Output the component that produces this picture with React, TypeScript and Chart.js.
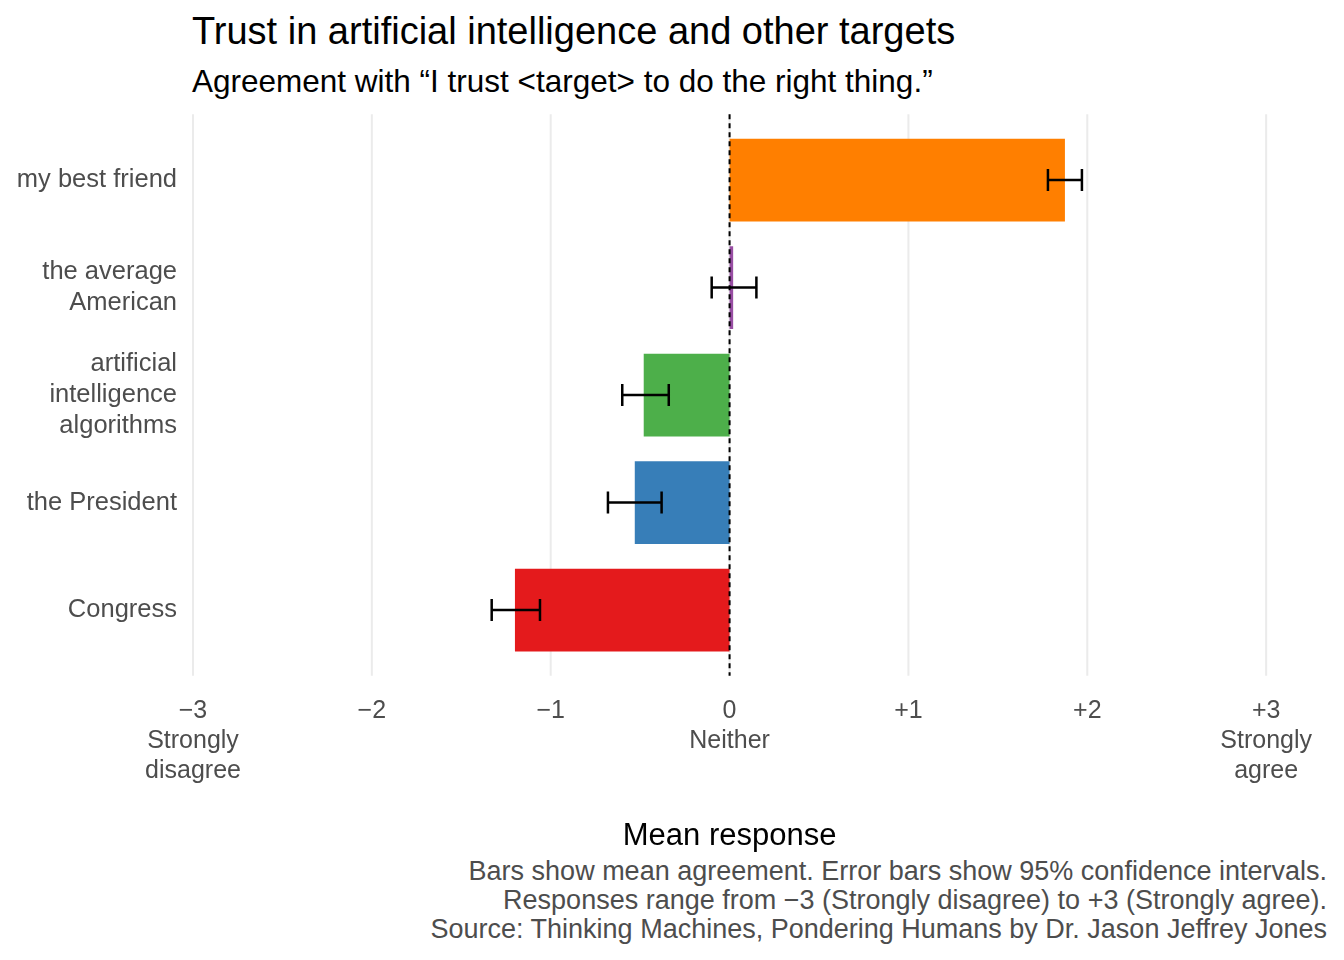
import React, { useEffect, useRef } from "react";
import { Chart, registerables } from "chart.js";
Chart.register(...registerables);

const categories = ["my best friend", ["the average", "American"], ["artificial", "intelligence", "algorithms"], "the President", "Congress"];
const means = [1.875, 0.02, -0.48, -0.53, -1.2];
const ciLow = [1.78, -0.1, -0.6, -0.68, -1.33];
const ciHigh = [1.97, 0.15, -0.34, -0.38, -1.06];
const colors = ["#FF7F00", "#984EA3", "#4DAF4A", "#377EB8", "#E41A1C"];
const tickValues = [-3, -2, -1, 0, 1, 2, 3];
const tickLabels: Record<string, string[]> = {
  "-3": ["\u22123", "Strongly", "disagree"],
  "-2": ["\u22122"],
  "-1": ["\u22121"],
  "0": ["0", "Neither"],
  "1": ["+1"],
  "2": ["+2"],
  "3": ["+3", "Strongly", "agree"],
};

const FONT = "'Liberation Sans', Arial, sans-serif";

const overlay = {
  id: "overlay",
  afterDatasetsDraw(chart: any) {
    const { ctx, chartArea, scales } = chart;
    const x = scales.x, y = scales.y;
    ctx.save();
    ctx.strokeStyle = "#000";
    ctx.lineWidth = 2;
    ctx.setLineDash([5, 4]);
    const x0 = x.getPixelForValue(0);
    ctx.beginPath();
    ctx.moveTo(x0, chartArea.top - 12);
    ctx.lineTo(x0, chartArea.bottom + 12);
    ctx.stroke();
    ctx.setLineDash([]);
    ctx.lineWidth = 2.5;
    means.forEach((_, i) => {
      const yc = y.getPixelForValue(i);
      const xl = x.getPixelForValue(ciLow[i]);
      const xh = x.getPixelForValue(ciHigh[i]);
      ctx.beginPath();
      ctx.moveTo(xl, yc); ctx.lineTo(xh, yc);
      ctx.moveTo(xl, yc - 11); ctx.lineTo(xl, yc + 11);
      ctx.moveTo(xh, yc - 11); ctx.lineTo(xh, yc + 11);
      ctx.stroke();
    });
    ctx.restore();
  },
};

const gridExt = {
  id: "gridExt",
  beforeDatasetsDraw(chart: any) {
    const { ctx, chartArea, scales } = chart;
    ctx.save();
    ctx.strokeStyle = "#ebebeb";
    ctx.lineWidth = 2;
    tickValues.forEach((v) => {
      const px = scales.x.getPixelForValue(v);
      ctx.beginPath();
      ctx.moveTo(px, chartArea.top - 12);
      ctx.lineTo(px, chartArea.bottom + 12);
      ctx.stroke();
    });
    ctx.restore();
  },
};

function ChartBox() {
  const ref = useRef<HTMLCanvasElement>(null);
  useEffect(() => {
    const chart = new Chart(ref.current!, {
      type: "bar",
      data: {
        labels: categories as any,
        datasets: [{ data: means, backgroundColor: colors, barPercentage: 0.77, categoryPercentage: 1 }],
      },
      plugins: [gridExt, overlay],
      options: {
        indexAxis: "y",
        animation: false,
        responsive: false,
        layout: { padding: { left: 0, right: 50, top: 0, bottom: 0 } },
        plugins: { legend: { display: false }, tooltip: { enabled: false } },
        scales: {
          x: {
            min: -3, max: 3,
            afterBuildTicks: (s: any) => { s.ticks = tickValues.map((v) => ({ value: v })); },
            ticks: {
              callback: (v: any) => tickLabels[String(v)],
              color: "#4d4d4d",
              font: { family: FONT, size: 25 },
              maxRotation: 0,
              padding: 32,
              lineHeight: 1.1,
            } as any,
            grid: { display: false, drawTicks: false },
            border: { display: false },
            title: { display: true, text: "Mean response", color: "#000", font: { family: FONT, size: 31 }, padding: { top: 0, bottom: 0 } },
          },
          y: {
            afterFit: (s: any) => { s.width = 193; },
            ticks: { color: "#4d4d4d", font: { family: FONT, size: 25.5 }, padding: 16, lineHeight: 1.08 } as any,
            grid: { display: false, drawTicks: false },
            border: { display: false },
          },
        },
      },
    });
    return () => chart.destroy();
  }, []);
  return <canvas ref={ref} width={1344} height={760} style={{ width: 1344, height: 760 }} />;
}

export default function App() {
  return (
    <div style={{ position: "absolute", left: 0, top: 0, width: 1344, height: 960, background: "#fff", fontFamily: FONT }}>
      <div style={{ position: "absolute", left: 192, top: 10, fontSize: 38, color: "#000" }}>Trust in artificial intelligence and other targets</div>
      <div style={{ position: "absolute", left: 192, top: 63, fontSize: 31.5, color: "#000" }}>Agreement with “I trust &lt;target&gt; to do the right thing.”</div>
      <div style={{ position: "absolute", left: 0, top: 95 }}><ChartBox /></div>
      <div style={{ position: "absolute", right: 17, top: 857, fontSize: 27, color: "#4d4d4d", textAlign: "right", lineHeight: "29px" }}>
        Bars show mean agreement. Error bars show 95% confidence intervals.<br />
        Responses range from −3 (Strongly disagree) to +3 (Strongly agree).<br />
        Source: Thinking Machines, Pondering Humans by Dr. Jason Jeffrey Jones
      </div>
    </div>
  );
}
